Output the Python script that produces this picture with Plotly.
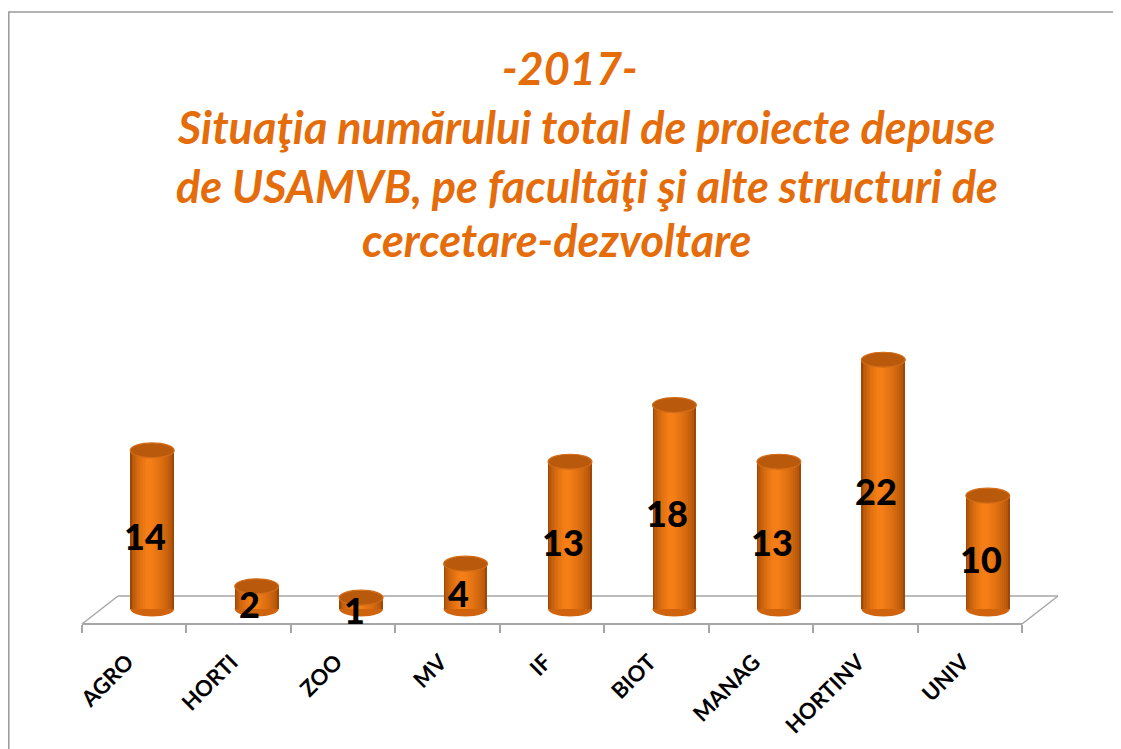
import plotly.graph_objects as go

# ---- data ----
categories = ["AGRO", "HORTI", "ZOO", "MV", "IF", "BIOT", "MANAG", "HORTINV", "UNIV"]
values = [14, 2, 1, 4, 13, 18, 13, 22, 10]
title_lines = [
    "-2017-",
    "Situaţia numărului total de proiecte depuse",
    "de USAMVB, pe facultăţi şi alte structuri de",
    "cercetare-dezvoltare",
]

# ---- geometry (pixels of the 1121x749 window; page body adds an 8px margin) ----
OFF = 8
W, H = 1121 - OFF, 749 - OFF
def px(x):
    return (x - OFF) / W
def py(y):
    return 1 - (y - OFF) / H

ZERO_PX = 609.0
PX_PER_UNIT = 11.33
Y_MIN, Y_MAX = -1.5, 25
y_dom = [py(ZERO_PX - Y_MIN * PX_PER_UNIT), py(ZERO_PX - Y_MAX * PX_PER_UNIT)]

AX_L, AX_R = 82, 1022          # front axis line
AX_Y = 624
DEPTH_DX, DEPTH_DY = 36, 28    # floor depth offset
BAR_SHIFT = 18                 # bars stand in the middle of the floor
TXT_SHIFT = -7
LBL_SHIFT = -7

ORANGE = "#E46C0A"
GRID = "#A6A6A6"
FONT = "Lato, 'Open Sans', sans-serif"

fig = go.Figure()

# cylinder body: layered bars to imitate shading
def mix(c1, c2, t):
    a = [int(c1[i:i + 2], 16) for i in (1, 3, 5)]
    b = [int(c2[i:i + 2], 16) for i in (1, 3, 5)]
    return "#%02x%02x%02x" % tuple(round(a[k] + (b[k] - a[k]) * t) for k in range(3))

N = 12
for k in range(N):
    t = k / (N - 1)
    w = 0.42 * (1 - t) + 0.06 * t
    sh = -0.03 * t
    col = mix("#9E4805", "#F57E16", t ** 0.55)
    fig.add_trace(go.Bar(
        x=categories, y=values, width=w, offset=-w / 2 + sh,
        marker=dict(color=col, line=dict(width=0)),
        xaxis="x", yaxis="y", hoverinfo="skip", showlegend=False,
    ))

# dummy traces for the category axes (axis line/ticks, tick labels, data-label axis)
for xa, ya in (("x2", "y2"), ("x4", "y2"), ("x3", "y3")):
    fig.add_trace(go.Scatter(
        x=categories, y=[0] * len(categories), mode="markers",
        marker=dict(opacity=0), xaxis=xa, yaxis=ya,
        hoverinfo="skip", showlegend=False,
    ))

shapes = []
CAP_H = 0.66
BW = 0.21
for i, v in enumerate(values):
    # bottom rounded edge
    shapes.append(dict(type="circle", xref="x", yref="y",
                       x0=i - BW, x1=i + BW, y0=-CAP_H, y1=CAP_H,
                       fillcolor="#D0640E", line=dict(width=0), layer="below"))
    # top cap
    shapes.append(dict(type="circle", xref="x", yref="y",
                       x0=i - BW, x1=i + BW, y0=v - CAP_H, y1=v + CAP_H,
                       fillcolor="#B9590B", line=dict(width=1.2, color="#D46C18"), layer="above"))

# floor (3D base) lines
floor = [
    ((AX_L, AX_Y), (AX_L + DEPTH_DX, AX_Y - DEPTH_DY)),
    ((AX_L + DEPTH_DX, AX_Y - DEPTH_DY), (AX_R + DEPTH_DX, AX_Y - DEPTH_DY)),
    ((AX_R + DEPTH_DX, AX_Y - DEPTH_DY), (AX_R, AX_Y)),
]
for (x0, y0), (x1, y1) in floor:
    shapes.append(dict(type="line", xref="paper", yref="paper",
                       x0=px(x0), y0=py(y0), x1=px(x1), y1=py(y1),
                       line=dict(color=GRID, width=1.5), layer="below"))

# outer chart border
shapes.append(dict(type="rect", xref="paper", yref="paper",
                   x0=px(8.8), y0=py(12), x1=px(1140), y1=py(770),
                   line=dict(color="#9A9A9A", width=1.5), fillcolor="rgba(0,0,0,0)"))

annotations = []
# data labels (annotations so they sit above the cylinder caps)
for c, v in zip(categories, values):
    annotations.append(dict(
        text=str(v), xref="x3", yref="y", x=c, y=v / 2 - 0.55,
        xanchor="center", yanchor="middle", showarrow=False,
        font=dict(family=FONT, size=36, color="black", weight=900),
    ))

title_y = [68, 127, 186, 240]
title_x = [570, 586, 587, 556]
for txt, xx, yy in zip(title_lines, title_x, title_y):
    annotations.append(dict(
        text=f"<i>{txt}</i>", xref="paper", yref="paper",
        x=px(xx), y=py(yy), xanchor="center", yanchor="middle", showarrow=False,
        font=dict(family=FONT, size=45, color=ORANGE, weight="bold"),
    ))

cat_axis = dict(type="category", categoryorder="array", categoryarray=categories,
                range=[-0.5, 8.5], anchor="free", position=py(AX_Y), side="bottom",
                showgrid=False, zeroline=False)
fig.update_layout(
    width=W, height=H, autosize=False,
    margin=dict(l=0, r=0, t=0, b=0),
    paper_bgcolor="white", plot_bgcolor="rgba(0,0,0,0)",
    barmode="overlay", bargap=0,
    showlegend=False,
    shapes=shapes, annotations=annotations,
    xaxis=dict(domain=[px(AX_L + BAR_SHIFT), px(AX_R + BAR_SHIFT)], type="category",
               categoryorder="array", categoryarray=categories, range=[-0.5, 8.5],
               visible=False, anchor="y"),
    yaxis=dict(domain=y_dom, range=[Y_MIN, Y_MAX], visible=False, anchor="x"),
    xaxis3=dict(domain=[px(AX_L + BAR_SHIFT + TXT_SHIFT), px(AX_R + BAR_SHIFT + TXT_SHIFT)],
                type="category", categoryorder="array", categoryarray=categories,
                range=[-0.5, 8.5], visible=False, anchor="y3"),
    yaxis3=dict(domain=y_dom, range=[-1, 1], visible=False, anchor="x3"),
    xaxis2=dict(domain=[px(AX_L), px(AX_R)], showline=True, linecolor=GRID, linewidth=1.5,
                ticks="outside", tickson="boundaries", ticklen=8, tickcolor=GRID,
                tickwidth=1.5, showticklabels=False, **cat_axis),
    xaxis4=dict(domain=[px(AX_L + LBL_SHIFT), px(AX_R + LBL_SHIFT)], showline=False,
                ticks="", tickangle=-45, ticklabelstandoff=20,
                tickfont=dict(family=FONT, size=22, color="black", weight="bold"),
                **cat_axis),
    yaxis2=dict(domain=y_dom, visible=False, anchor="x2", range=[-1, 1]),
)

fig.write_html("out.html")
